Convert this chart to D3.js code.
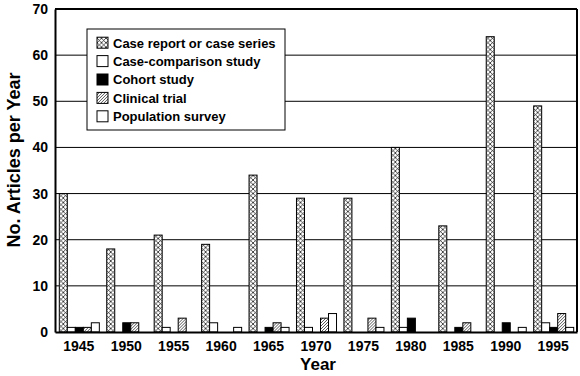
<!DOCTYPE html>
<html>
<head>
<meta charset="utf-8">
<script src="https://cdn.jsdelivr.net/npm/d3@7"></script>
<style>
  html, body { margin: 0; padding: 0; background: #fff; }
  svg { display: block; font-family: "Liberation Sans", Arial, Helvetica, sans-serif; font-weight: bold; }
</style>
</head>
<body>
<svg id="chart" width="580" height="376"></svg>
<script>
const years = ["1945","1950","1955","1960","1965","1970","1975","1980","1985","1990","1995"];
const seriesNames = ["Case report or case series","Case-comparison study","Cohort study","Clinical trial","Population survey"];
const caseReport     = [30, 18, 21, 19, 34, 29, 29, 40, 23, 64, 49];
const caseComparison = [ 1,  0,  1,  2,  0,  1,  0,  1,  0,  0,  2];
const cohort         = [ 1,  2,  0,  0,  1,  0,  0,  3,  1,  2,  1];
const clinicalTrial  = [ 1,  2,  3,  0,  2,  3,  3,  0,  2,  0,  4];
const popSurvey      = [ 2,  0,  0,  1,  1,  4,  1,  0,  0,  1,  1];
const yTicks = [0, 10, 20, 30, 40, 50, 60, 70];

(function () {
const seriesValues = [caseReport, caseComparison, cohort, clinicalTrial, popSurvey];
const fills = ["url(#xhatch)", "#fff", "#000", "url(#dhatch)", "#fff"];

const svg = d3.select("#chart");
const mLeft = 55, mRight = 577, mTop = 9, mBottom = 332;

const defs = svg.append("defs");
const s = 4.5;
const px = defs.append("pattern").attr("id","xhatch").attr("patternUnits","userSpaceOnUse")
  .attr("width",s).attr("height",s);
px.append("rect").attr("width",s).attr("height",s).attr("fill","#fff");
px.append("path").attr("d",`M0,0L${s},${s}M0,${s}L${s},0`).attr("stroke","#000").attr("stroke-width",0.7);
const pd = defs.append("pattern").attr("id","dhatch").attr("patternUnits","userSpaceOnUse")
  .attr("width",3).attr("height",3);
pd.append("rect").attr("width",3).attr("height",3).attr("fill","#fff");
pd.append("path").attr("d","M0,3L3,0M-1,1L1,-1M2,4L4,2").attr("stroke","#444").attr("stroke-width",0.9);

const x = d3.scaleBand().domain(years).range([mLeft, mRight]).paddingInner(0.156).paddingOuter(0.08);
const xs = d3.scaleBand().domain(d3.range(5)).range([0, x.bandwidth()]);
const y = d3.scaleLinear().domain([0, 70]).range([mBottom, mTop]);

// gridlines
svg.append("g").selectAll("line").data(yTicks.filter(d => d > 0 && d < 70)).join("line")
  .attr("x1", mLeft).attr("x2", mRight)
  .attr("y1", d => y(d)).attr("y2", d => y(d))
  .attr("stroke", "#000").attr("stroke-width", 1);

// bars
const groups = svg.append("g").selectAll("g").data(years).join("g")
  .attr("transform", d => `translate(${x(d)},0)`);
groups.selectAll("rect").data((yr, i) => seriesValues.map((sv, k) => ({k, v: sv[i]})).filter(d => d.v > 0)).join("rect")
  .attr("x", d => xs(d.k) + 0.5)
  .attr("width", xs.bandwidth())
  .attr("y", d => y(d.v))
  .attr("height", d => y(0) - y(d.v))
  .attr("fill", d => fills[d.k])
  .attr("stroke", "#000").attr("stroke-width", 1);

// frame
svg.append("line").attr("x1", mLeft).attr("x2", mRight).attr("y1", mTop).attr("y2", mTop).attr("stroke","#000").attr("stroke-width",2);
svg.append("line").attr("x1", mRight).attr("x2", mRight).attr("y1", mTop).attr("y2", mBottom).attr("stroke","#000").attr("stroke-width",2);

// axes
const yAxis = d3.axisLeft(y).tickValues(yTicks).tickSize(0).tickPadding(7);
const gy = svg.append("g").attr("transform", `translate(${mLeft},0)`).call(yAxis);
gy.select(".domain").attr("stroke","#000").attr("stroke-width",2);
gy.selectAll("text").attr("font-size", 14).attr("font-family", "Liberation Sans, Arial, sans-serif").attr("font-weight","bold").attr("fill","#000");

const xAxis = d3.axisBottom(x).tickSize(0).tickPadding(9);
const gx = svg.append("g").attr("transform", `translate(0,${mBottom})`).call(xAxis);
gx.select(".domain").attr("stroke","#000").attr("stroke-width",2);
gx.selectAll("text").attr("font-size", 14).attr("font-family", "Liberation Sans, Arial, sans-serif").attr("font-weight","bold").attr("fill","#000");

// titles
svg.append("text").attr("x", (mLeft + mRight) / 2 + 2).attr("y", 370).attr("text-anchor","middle")
  .attr("font-size", 17).text("Year");
svg.append("text").attr("transform", `translate(20,${160}) rotate(-90)`).attr("text-anchor","middle")
  .attr("font-size", 18).text("No. Articles per Year");

// legend
const lg = svg.append("g");
lg.append("rect").attr("x", 87).attr("y", 29).attr("width", 198).attr("height", 101)
  .attr("fill","#fff").attr("stroke","#000").attr("stroke-width",1);
const rows = lg.selectAll("g").data(seriesNames).join("g")
  .attr("transform", (d, i) => `translate(97,${42.7 + i * 18.4})`);
rows.append("rect").attr("x", 0).attr("y", -5.5).attr("width", 11).attr("height", 11)
  .attr("fill", (d, i) => fills[i]).attr("stroke","#000").attr("stroke-width",1);
rows.append("text").attr("x", 16).attr("y", 4.8).attr("font-size", 13).text(d => d);
})();
</script>
</body>
</html>
